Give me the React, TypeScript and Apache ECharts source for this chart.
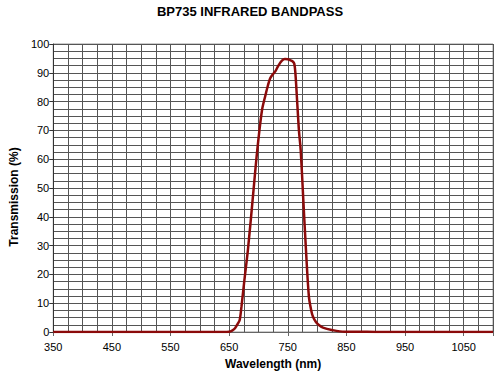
import React, { useEffect, useRef } from "react";
import * as echarts from "echarts";

const TITLE = "BP735 INFRARED BANDPASS";
const X_NAME = "Wavelength (nm)";
const Y_NAME = "Transmission (%)";

const wavelengths = [
  350, 400, 500, 600, 640, 650, 655, 660, 665, 668, 671, 676, 682, 690, 698, 706, 712, 716, 720, 725,
  729, 734, 740, 745, 750, 754, 758, 761, 763, 765.5, 769, 772, 776.5, 781, 786, 790, 793, 798, 803,
  810, 825, 847, 870, 900, 1000, 1100,
];
const transmission = [
  0, 0, 0, 0, 0, 0.1, 0.5, 1.3, 3, 4.2, 8.8, 18, 28.5, 45.8, 63.2, 77, 82.3, 85.5, 88.1, 89.6,
  90.6, 92.5, 94.2, 94.8, 94.7, 94.4, 94, 93.2, 89.8, 81.7, 70, 63.2, 45.8, 28.5, 12.3, 7.5, 5.3, 3.5,
  2.4, 1.5, 0.7, 0.1, 0.1, 0, 0, 0,
];

const X_MIN = 350;
const X_MAX = 1100;
const Y_MIN = 0;
const Y_MAX = 100;

const FONT = "Liberation Sans, Arial, sans-serif";
const GRID_COLOR = "#555";

export default function App() {
  const ref = useRef<HTMLDivElement>(null);
  useEffect(() => {
    if (!ref.current) return;
    const chart = echarts.init(ref.current, null, { renderer: "svg" });
    const data = wavelengths.map((w, i) => [w, transmission[i]]);
    chart.setOption({
      animation: false,
      backgroundColor: "#fff",
      title: {
        text: TITLE,
        left: "center",
        top: 0,
        textStyle: { fontFamily: FONT, fontSize: 13, fontWeight: "bold", color: "#000" },
      },
      grid: {
        left: 40,
        right: 7,
        top: 44,
        bottom: 43,
        show: true,
        borderColor: "#999",
        borderWidth: 1,
      },
      xAxis: [
        {
          type: "value",
          min: X_MIN,
          max: X_MAX,
          interval: 25,
          axisLine: { show: false },
          axisTick: { show: false },
          axisLabel: { show: false },
          splitLine: { show: true, lineStyle: { color: GRID_COLOR, width: 1 } },
        },
        {
          type: "value",
          position: "bottom",
          min: X_MIN,
          max: X_MAX,
          interval: 100,
          name: X_NAME,
          nameLocation: "middle",
          nameGap: 26,
          nameTextStyle: { fontFamily: FONT, fontSize: 12, fontWeight: "bold", color: "#000" },
          axisLine: { show: true, lineStyle: { color: "#666" } },
          axisTick: { show: true, length: 4, lineStyle: { color: "#666" } },
          axisLabel: {
            fontFamily: FONT,
            fontSize: 11,
            color: "#000",
            margin: 9,
            formatter: (v: number) => (v === X_MAX ? "" : String(v)),
          },
          splitLine: { show: false },
        },
      ],
      yAxis: [
        {
          type: "value",
          min: Y_MIN,
          max: Y_MAX,
          interval: 2.5,
          axisLine: { show: false },
          axisTick: { show: false },
          axisLabel: { show: false },
          splitLine: { show: true, lineStyle: { color: GRID_COLOR, width: 1 } },
        },
        {
          type: "value",
          position: "left",
          min: Y_MIN,
          max: Y_MAX,
          interval: 10,
          name: Y_NAME,
          nameLocation: "middle",
          nameGap: 26,
          nameTextStyle: {
            fontFamily: FONT,
            fontSize: 12,
            fontWeight: "bold",
            color: "#000",
            padding: [0, 0, 0, -18],
          },
          axisLine: { show: true, lineStyle: { color: "#333" } },
          axisTick: { show: true, length: 4, lineStyle: { color: "#333" } },
          axisLabel: { fontFamily: FONT, fontSize: 11, color: "#000", margin: 4 },
          splitLine: { show: false },
        },
      ],
      series: [
        {
          type: "line",
          xAxisIndex: 0,
          yAxisIndex: 0,
          data,
          smooth: 0.3,
          showSymbol: false,
          lineStyle: { color: "#8b0a0a", width: 2.5 },
          z: 5,
        },
      ],
    });
    return () => chart.dispose();
  }, []);
  return <div ref={ref} style={{ width: 500, height: 375, position: "absolute", left: 0, top: 0 }} />;
}
